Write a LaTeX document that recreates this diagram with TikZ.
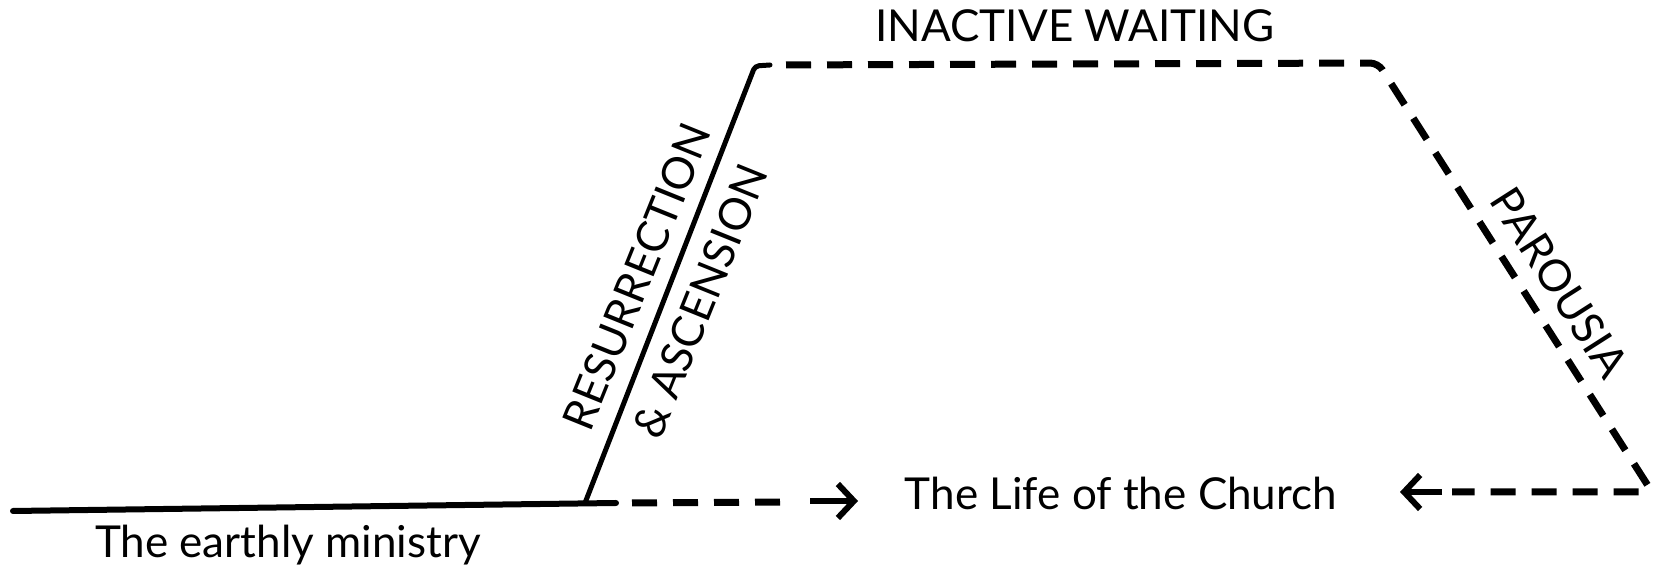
\documentclass[tikz,border=0pt]{standalone}
\usepackage{fontspec}
\setmainfont{Lato}
\usetikzlibrary{arrows.meta,calc}
\begin{document}
\begin{tikzpicture}[x=1pt,y=1pt,
  lbl/.style={inner sep=0pt, font=\fontsize{44}{52}\selectfont},
  caplbl/.style={lbl, text depth=0pt},
  solidline/.style={line width=5pt, line cap=round, line join=round},
  dashline/.style={line width=7pt, dash pattern=on 25pt off 16pt},
  arrowline/.style={line width=6pt, -{Straight Barb[length=16pt,width=34pt]}}
]
\useasboundingbox (0,0) rectangle (1655,572);
% key points
\coordinate (A) at (13,61);
\coordinate (B) at (585,69);
\coordinate (B2) at (616,69);
\coordinate (C) at (755,506);
\coordinate (C2) at (770,507);
\coordinate (D) at (1378,509);
\coordinate (E) at (1652,80);
\coordinate (F) at (1452,80);
\coordinate (La) at (1442,80);
\coordinate (Lt) at (1400,80);
\coordinate (G) at (788,70);
\coordinate (Ra) at (810,71);
\coordinate (Rt) at (858,71);
% lines
\draw[solidline, line width=6pt] (A) -- (B2);
\draw[solidline, rounded corners=4pt] (B) -- (C) -- (C2);
\draw[dashline, dash phase=25pt, rounded corners=8pt] (C2) -- (D) -- (E) -- (F);
\draw[dashline, dash phase=25pt] (B2) -- (G);
\draw[arrowline] (Ra) -- (Rt);
\draw[arrowline] (La) -- (Lt);
% labels
\node[lbl, anchor=base] (earthly) at (288,14) {The earthly ministry};
\node[lbl, anchor=base] (life) at (1121,62) {The Life of the Church};
\node[lbl, anchor=base] (waiting) at (1075,530) {INACTIVE WAITING};
\coordinate (M1) at ($(B)!0.49!(C)$);
\node[caplbl, rotate=68] (res) at ($(M1)!34pt!90:(C)$) {RESURRECTION};
\node[caplbl, rotate=68] (asc) at ($(M1)!34pt!-90:(C)$) {\&~ASCENSION};
\coordinate (M2) at ($(D)!0.556!(E)$);
\node[caplbl, rotate=-57.4] (par) at ($(M2)!35pt!90:(E)$) {PAROUSIA};
\end{tikzpicture}
\end{document}
